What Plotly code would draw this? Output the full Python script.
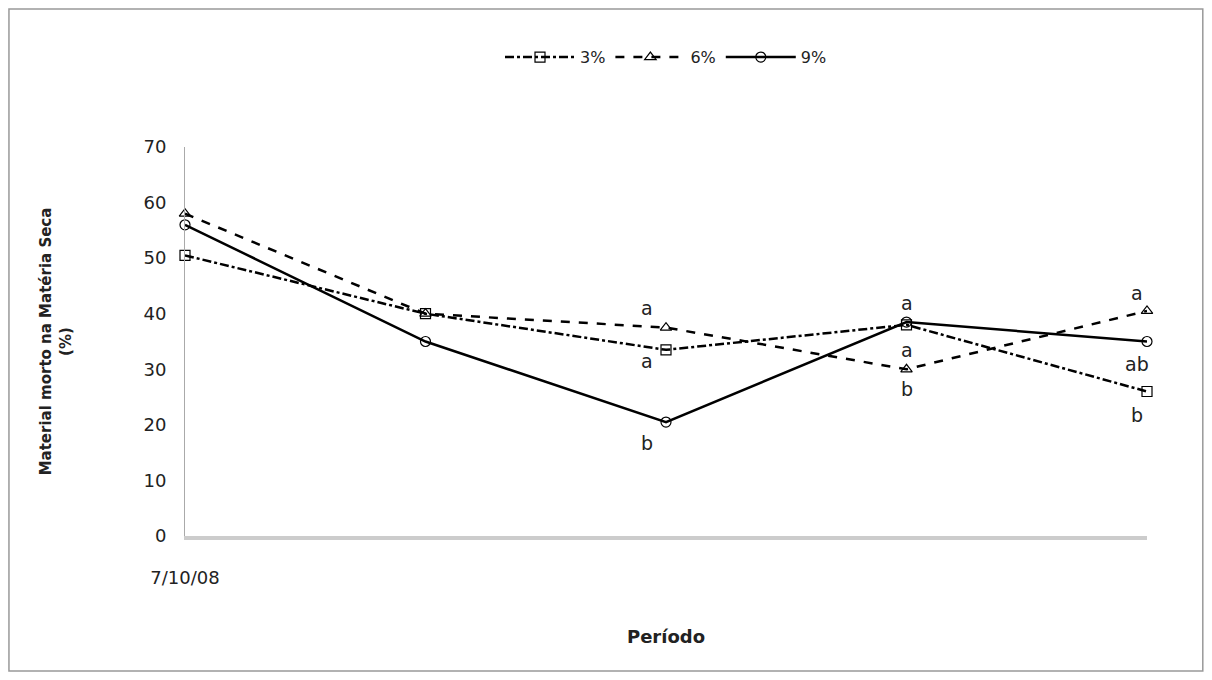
import plotly.graph_objects as go

x = [0, 1, 2, 3, 4]
s3 = [50.5, 40, 33.5, 38, 26]
s6 = [58, 40, 37.5, 30, 40.5]
s9 = [56, 35, 20.5, 38.5, 35]
names = ["3%", "6%", "9%"]
letters_x = [2, 2, 2, 3, 3, 3, 4, 4, 4]
letters_y = [41, 31.5, 16.7, 42, 33.5, 26.5, 43.7, 31, 21.8]
letters_t = ["a", "a", "b", "a", "a", "b", "a", "ab", "b"]
letters_dx = [-0.08, -0.08, -0.08, 0, 0, 0, -0.04, -0.04, -0.04]

fig = go.Figure()
styles = [("dashdot", "square-open"), ("dash", "triangle-up-open"), ("solid", "circle-open")]
for vals, nm, (dash, sym) in zip([s3, s6, s9], names, styles):
    fig.add_trace(go.Scatter(x=x, y=vals, name=nm, mode="lines+markers",
                             line=dict(color="black", width=2.5, dash=dash),
                             marker=dict(symbol=sym, size=10, color="black", line=dict(width=1.2)),
                             cliponaxis=False))
for xx, yy, t, dx in zip(letters_x, letters_y, letters_t, letters_dx):
    fig.add_annotation(x=xx + dx, y=yy, text=t, showarrow=False,
                       font=dict(size=19, color="#222"))

fig.update_layout(
    width=1196, height=664, paper_bgcolor="white", plot_bgcolor="white",
    margin=dict(l=177, r=57, t=139, b=136, autoexpand=False),
    font=dict(family="DejaVu Sans", color="#222"),
    showlegend=True,
    legend=dict(orientation="h", x=0.5, xanchor="center", y=1.231, yanchor="middle",
                font=dict(size=16), itemwidth=70, bgcolor="rgba(0,0,0,0)"),
    shapes=[dict(type="rect", xref="paper", yref="paper", x0=-0.183, x1=1.058, y0=-0.347, y1=1.355,
                 line=dict(color="#999", width=1.5))],
)
fig.update_xaxes(range=[0, 4], tickvals=[0], ticktext=["7/10/08"], showgrid=False,
                 showline=True, linecolor="#ccc", linewidth=4, ticks="", zeroline=False,
                 tickfont=dict(size=18), ticklabelstandoff=22,
                 title=dict(text="<b>Período</b>", font=dict(size=18), standoff=45))
fig.update_yaxes(range=[0, 70], dtick=10, showgrid=False, showline=True, linecolor="#aaa",
                 linewidth=1, zeroline=False, ticks="", tickfont=dict(size=18),
                 ticklabelstandoff=14,
                 title=dict(text="<b>Material morto na Matéria Seca<br>(%)</b>", font=dict(size=15), standoff=68))
fig.write_html("out.html")
